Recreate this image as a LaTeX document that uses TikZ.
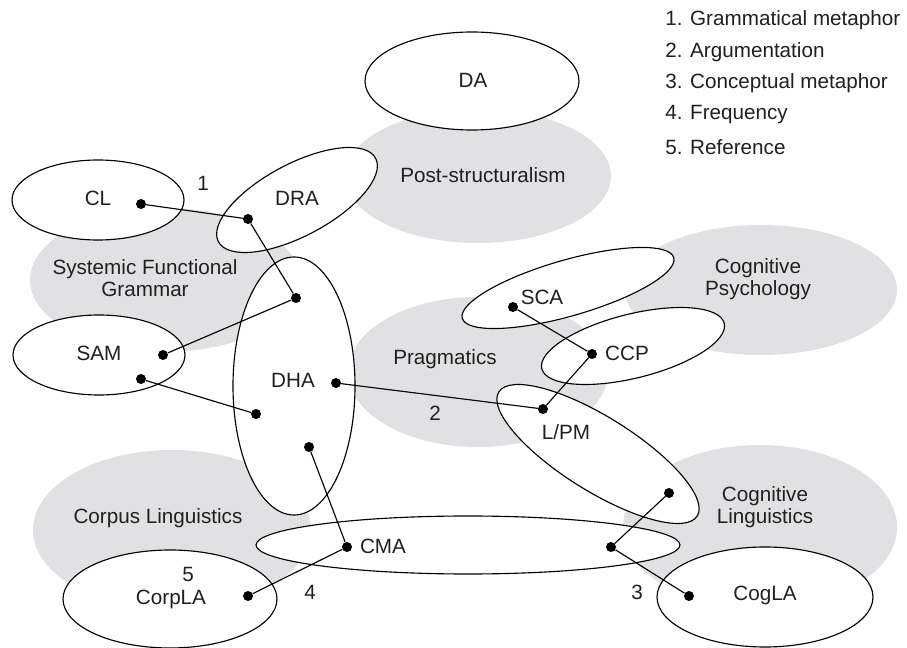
\documentclass[tikz,border=0pt]{standalone}
\usepackage{fontspec}
\setmainfont{Liberation Sans}
\definecolor{zone}{RGB}{225,225,227}
\definecolor{ink}{RGB}{35,31,32}

\begin{document}
\begin{tikzpicture}[x=0.75pt,y=-0.75pt,
  zonefill/.style={fill=zone},
  regionfill/.style={fill=white},
  outline/.style={draw=black,line width=0.85pt},
  lbl/.style={font=\fontsize{15.5}{17}\selectfont, text=ink, inner sep=0pt, align=center},
  dot/.style={circle,fill=black,inner sep=0pt,minimum size=7.5pt},
  link/.style={draw=black,line width=0.85pt},
]
\useasboundingbox (0,0) rectangle (907,648);

% ---- grey fields of study ----
\fill[zonefill] (478,176) ellipse [x radius=133, y radius=67];
\fill[zonefill] (165,280) ellipse [x radius=135, y radius=72];
\fill[zonefill] (478,372) ellipse [x radius=130, y radius=75];
\fill[zonefill] (761,290) ellipse [x radius=136, y radius=65];
\fill[zonefill] (172,530) ellipse [x radius=139, y radius=80];
\fill[zonefill] (760,527) ellipse [x radius=137, y radius=82];

% ---- approaches: white interiors ----
\fill[regionfill] (472,81) ellipse [x radius=107, y radius=49];
\fill[regionfill] (98,200) ellipse [x radius=86, y radius=40];
\fill[regionfill, rotate around={28:(297,200)}] (297,200) ellipse [x radius=89, y radius=36];
\fill[regionfill] (99,355) ellipse [x radius=86, y radius=40];
\fill[regionfill] (294,386) ellipse [x radius=61, y radius=129];
\fill[regionfill, rotate around={16:(568,288)}] (568,288) ellipse [x radius=110, y radius=28];
\fill[regionfill, rotate around={14:(633,346)}] (633,346) ellipse [x radius=94, y radius=32];
\fill[regionfill, rotate around={-32:(598,454)}] (598,454) ellipse [x radius=117, y radius=37];
\fill[regionfill] (468,545) ellipse [x radius=212, y radius=29];
\fill[regionfill] (170,599) ellipse [x radius=107, y radius=49];
\fill[regionfill] (765,597) ellipse [x radius=108, y radius=50];

% ---- approaches: outlines ----
\draw[outline] (472,81) ellipse [x radius=107, y radius=49];
\draw[outline] (98,200) ellipse [x radius=86, y radius=40];
\draw[outline, rotate around={28:(297,200)}] (297,200) ellipse [x radius=89, y radius=36];
\draw[outline] (99,355) ellipse [x radius=86, y radius=40];
\draw[outline] (294,386) ellipse [x radius=61, y radius=129];
\draw[outline, rotate around={16:(568,288)}] (568,288) ellipse [x radius=110, y radius=28];
\draw[outline, rotate around={14:(633,346)}] (633,346) ellipse [x radius=94, y radius=32];
\draw[outline, rotate around={-32:(598,454)}] (598,454) ellipse [x radius=117, y radius=37];
\draw[outline] (468,545) ellipse [x radius=212, y radius=29];
\draw[outline] (170,599) ellipse [x radius=107, y radius=49];
\draw[outline] (765,597) ellipse [x radius=108, y radius=50];

% ---- field labels ----
\node[lbl] (tPost) at (483,175) {Post-structuralism};
\node[lbl] (tSFG)  at (145,278) {Systemic Functional\\Grammar};
\node[lbl] (tPrag) at (445,359) {Pragmatics};
\node[lbl] (tCPsy) at (758,279) {Cognitive\\Psychology};
\node[lbl] (tCorp) at (158,518) {Corpus Linguistics};
\node[lbl] (tCLin) at (765,507) {Cognitive\\Linguistics};

% ---- approach labels ----
\node[lbl] (tDA)    at (473,80)  {DA};
\node[lbl] (tCL)    at (98,198)  {CL};
\node[lbl] (tDRA)   at (297,198) {DRA};
\node[lbl] (tSAM)   at (99,353)  {SAM};
\node[lbl] (tDHA)   at (293,380) {DHA};
\node[lbl] (tSCA)   at (542,297) {SCA};
\node[lbl] (tCCP)   at (627,353) {CCP};
\node[lbl] (tLPM)   at (566,432) {L/PM};
\node[lbl] (tCMA)   at (383,546) {CMA};
\node[lbl] (tCorpLA) at (171,599) {CorpLA};
\node[lbl] (tCogLA) at (765,595) {CogLA};

% ---- link numbers ----
\node[lbl] (n1) at (203,183) {1};
\node[lbl] (n2) at (435,413) {2};
\node[lbl] (n3) at (637,592) {3};
\node[lbl] (n4) at (310,592) {4};
\node[lbl] (n5) at (188,574) {5};

% ---- key ----
\node[lbl, anchor=west] (k1) at (665,20)  {1. Grammatical metaphor};
\node[lbl, anchor=west] (k2) at (665,52)  {2. Argumentation};
\node[lbl, anchor=west] (k3) at (665,83)  {3. Conceptual metaphor};
\node[lbl, anchor=west] (k4) at (665,115) {4. Frequency};
\node[lbl, anchor=west] (k5) at (665,147) {5. Reference};

% ---- link end points ----
\node[dot] (pCL)    at (141,204) {};
\node[dot] (pDRA)   at (248,219) {};
\node[dot] (pDHAa)  at (296,298) {};
\node[dot] (pSAMa)  at (163,355) {};
\node[dot] (pSAMb)  at (141,379) {};
\node[dot] (pDHAb)  at (256,414) {};
\node[dot] (pDHAc)  at (336,383) {};
\node[dot] (pDHAd)  at (309,447) {};
\node[dot] (pCMAa)  at (347,547) {};
\node[dot] (pCorpLA) at (248,596) {};
\node[dot] (pLPMa)  at (543,409) {};
\node[dot] (pCCP)   at (592,354) {};
\node[dot] (pSCA)   at (513,307) {};
\node[dot] (pLPMb)  at (669,493) {};
\node[dot] (pCMAb)  at (611,547) {};
\node[dot] (pCogLA) at (689,596) {};

% ---- links ----
\draw[link] (pCL) -- (pDRA);
\draw[link] (pDRA) -- (pDHAa);
\draw[link] (pDHAa) -- (pSAMa);
\draw[link] (pSAMb) -- (pDHAb);
\draw[link] (pDHAc) -- (pLPMa);
\draw[link] (pSCA) -- (pCCP);
\draw[link] (pCCP) -- (pLPMa);
\draw[link] (pDHAd) -- (pCMAa);
\draw[link] (pCMAa) -- (pCorpLA);
\draw[link] (pLPMb) -- (pCMAb);
\draw[link] (pCMAb) -- (pCogLA);
\end{tikzpicture}
\end{document}
